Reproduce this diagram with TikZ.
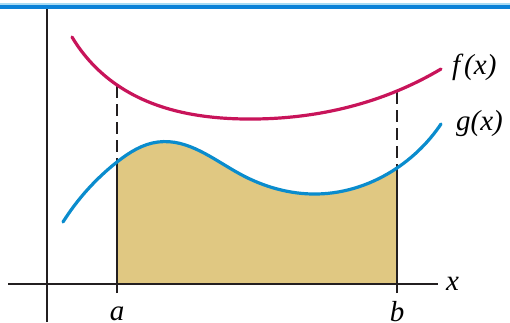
\documentclass[tikz,border=0pt]{standalone}
\usepackage{fontspec}
\setmainfont{Liberation Serif}
\usetikzlibrary{hobby}
\definecolor{barblue}{HTML}{0A82D8}
\definecolor{barlight}{HTML}{A8DCF4}
\definecolor{fcol}{HTML}{C8145A}
\definecolor{gcol}{HTML}{0A8CCD}
\definecolor{areacol}{HTML}{E0C882}
\definecolor{axiscol}{HTML}{231F20}
\tikzset{
  curvef/.style={draw=fcol, line width=3.2pt, line cap=round},
  curveg/.style={draw=gcol, line width=3.2pt, line cap=round},
  axisline/.style={draw=axiscol, line width=1.6pt},
  boundline/.style={draw=axiscol, line width=2pt},
  lbl/.style={font=\fontsize{29}{31}\selectfont\itshape, inner sep=0pt},
}
\begin{document}
\begin{tikzpicture}[x=1pt,y=-1pt]
\useasboundingbox (0,0) rectangle (510,322);
% top bar
\fill[barlight] (0,2.5) rectangle (510,4.8);
\fill[barblue] (0,4.8) rectangle (510,8.8);
% area
\begin{scope}
\clip (117,0) rectangle (397,284);
\fill[areacol, use Hobby shortcut] (63,222) .. (117,162) .. (158,142) .. (240,174) .. (317,194) .. (397,168) .. (441,124) -- (441,284) -- (63,284) -- cycle;
\end{scope}
% axes
\coordinate (yb) at (47,322);
\coordinate (yt) at (47,9);
\coordinate (xl) at (8,284);
\coordinate (xr) at (438,284);
\draw[axisline] (yb) -- (yt);
\draw[axisline] (xl) -- (xr);
% boundaries
\coordinate (a0) at (117,293);
\coordinate (ag) at (117,162);
\coordinate (af) at (117,86);
\coordinate (b0) at (397,293);
\coordinate (bg) at (397,168);
\coordinate (bf) at (397,92);
\draw[boundline] (a0) -- (ag);
\draw[boundline, dash pattern=on 12pt off 6pt] (af) -- (ag);
\draw[boundline] (b0) -- (bg);
\draw[boundline, dash pattern=on 12pt off 6pt] (bf) -- (bg);
% curves
\draw[curvef, use Hobby shortcut] (72,37) .. (117,85) .. (245,119) .. (397,91) .. (441,69);
\draw[curveg, use Hobby shortcut] (63,222) .. (117,162) .. (158,142) .. (240,174) .. (317,194) .. (397,168) .. (441,124);
% labels
\node[lbl, anchor=west] (fl) at (452,67) {f\kern4pt(x)};
\node[lbl, anchor=west] (gl) at (456,124) {g(x)};
\node[lbl, anchor=west] (xlab) at (446,284) {x};
\node[lbl, anchor=north] (al) at (117,307) {a};
\node[lbl, anchor=north] (bl) at (397,301) {b};
\end{tikzpicture}
\end{document}
